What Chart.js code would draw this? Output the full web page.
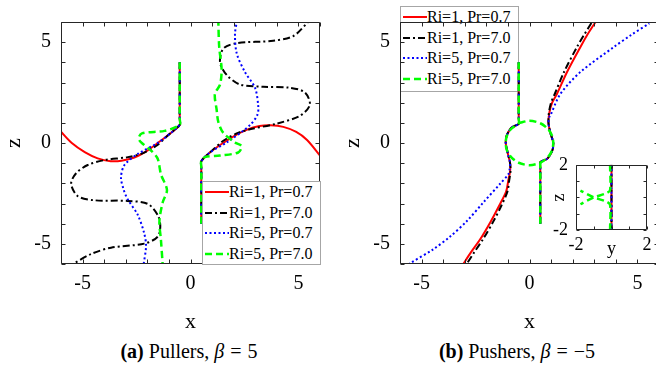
<!DOCTYPE html>
<html>
<head>
<meta charset="utf-8">
<script src="https://cdn.jsdelivr.net/npm/chart.js@4.4.0/dist/chart.umd.min.js"></script>
<style>
html, body { margin: 0; padding: 0; background: #fff; overflow: hidden; width: 656px; height: 369px; }
canvas { position: absolute; }
.legend { position: absolute; box-sizing: border-box; background: #fff; border: 1px solid #a6a6a6;
  font-family: 'Liberation Serif', 'DejaVu Serif', serif; font-size: 16px; color: #000; }
.legend div { height: 20.5px; display: flex; align-items: center; white-space: nowrap; }
.legend svg { flex: none; }
.caption { position: absolute; top: 340px; font-family: 'Liberation Serif', 'DejaVu Serif', serif; font-size: 20px;
  transform: translateX(-50%); white-space: nowrap; color: #000; }
.caption b { margin-right: 5px; }
.caption .eq { margin: 0 6px; }
</style>
</head>
<body>
<canvas id="pullers" width="330" height="340" style="left:0;top:0"></canvas>
<div class="legend" id="legendB" style="left:400px;top:6px;width:119px;height:86px"></div>
<canvas id="pushers" width="330" height="340" style="left:339px;top:0"></canvas>
<div class="legend" id="legendA" style="left:202px;top:181px;width:119px;height:84px"></div>
<canvas id="inset" width="120" height="114" style="left:540px;top:146px"></canvas>
<div class="caption" style="left:189px"><b>(a)</b>Pullers, <i>β</i><span class="eq">=</span>5</div>
<div class="caption" style="left:517px"><b>(b)</b>Pushers, <i>β</i><span class="eq">=</span>−5</div>

<script>
// series labels and tick labels
const seriesLabels = ['Ri=1, Pr=0.7', 'Ri=1, Pr=7.0', 'Ri=5, Pr=0.7', 'Ri=5, Pr=7.0'];
const mainTickLabels = [-5, 0, 5];
const insetTickLabels = [-2, 2];

// (a) pullers, beta = 5 : [x, z] points, upper branch and lower branch
const pullRedUp = [[-0.5,4],[-0.5,1.2],[-0.5,0.9],[-1.0,0.42],[-1.52,0],[-2.0,-0.38],[-2.6,-0.72],[-3.2,-0.88],[-3.7,-0.9],[-4.3,-0.76],[-4.9,-0.45],[-5.5,0],[-6,0.56]];
const pullRedLow = [[0.5,-4],[0.5,-1.2],[0.5,-0.9],[0.9,-0.47],[1.44,-0.05],[2.0,0.33],[2.6,0.65],[3.2,0.84],[3.7,0.88],[4.3,0.8],[4.9,0.55],[5.4,0.15],[6,-0.62]];
const pullBlackUp = [[-0.5,4],[-0.5,1.2],[-0.5,0.9],[-1.0,0.42],[-1.6,-0.15],[-2.2,-0.5],[-2.9,-0.7],[-4.0,-0.85],[-4.76,-1.09],[-5.3,-1.5],[-5.53,-2.02],[-5.22,-2.64],[-4.45,-2.84],[-2.91,-2.87],[-1.98,-3.02],[-1.52,-3.57],[-1.4,-4.11],[-1.52,-4.65],[-2.14,-4.99],[-3.68,-5.19],[-4.6,-5.5],[-5.45,-6]];
const pullBlackLow = [[0.5,-4],[0.5,-1.2],[0.5,-0.9],[0.9,-0.47],[1.52,0.11],[2.2,0.5],[2.75,0.68],[3.99,0.96],[5.07,1.35],[5.53,1.89],[5.3,2.51],[4.6,2.74],[3.37,2.79],[2.29,2.9],[1.68,3.37],[1.37,3.99],[1.52,4.68],[2.14,4.95],[3.83,5.07],[4.76,5.3],[5.45,6]];
const pullBlueUp = [[-0.5,4],[-0.5,1.2],[-0.5,0.9],[-1.0,0.42],[-1.52,0],[-2.44,-0.54],[-3.06,-1.09],[-3.22,-1.71],[-3.1,-2.3],[-2.91,-2.79],[-2.44,-3.57],[-2.14,-4.5],[-2.06,-5.12],[-2.17,-6]];
const pullBlueLow = [[0.5,-4],[0.5,-1.2],[0.5,-0.9],[0.9,-0.47],[1.68,0.03],[2.75,0.88],[3.1,1.4],[3.14,1.81],[2.99,2.74],[2.52,3.52],[2.14,4.45],[2.06,5.38],[2.14,6]];
const pullGreenUp = [[-0.5,4],[-0.5,1.2],[-0.5,0.9],[-1.2,0.6],[-2.25,0.48],[-2.4,0.2],[-2.2,-0.05],[-1.8,-0.4],[-1.52,-0.78],[-1.37,-1.55],[-1.09,-2.33],[-1.29,-2.95],[-1.44,-3.88],[-1.37,-4.8],[-1.29,-6]];
const pullGreenLow = [[0.5,-4],[0.5,-1.2],[0.5,-0.9],[0.67,-0.7],[1.37,-0.62],[2.21,-0.47],[2.37,-0.16],[2.06,0.03],[1.52,0.5],[1.29,1.04],[1.21,1.66],[1.13,2.43],[1.37,2.9],[1.44,3.67],[1.33,4.76],[1.29,6]];

// (b) pushers, beta = -5
const pushRedUp = [[-0.5,4],[-0.5,1.2],[-0.5,0.95],[-0.82,0.78],[-1.05,0.39],[-1.1,0],[-1.0,-0.54],[-0.9,-1.0],[-0.9,-1.4],[-0.98,-1.85],[-1.08,-2.4],[-1.4,-3.1],[-1.8,-3.9],[-2.3,-4.8],[-2.7,-5.4],[-3.07,-6]];
const pushRedLow = [[0.5,-4],[0.5,-1.2],[0.5,-0.95],[0.82,-0.78],[1.05,-0.39],[1.1,0],[0.96,0.54],[0.88,1.0],[0.92,1.5],[1.05,2.0],[1.27,2.43],[1.74,3.52],[2.36,4.76],[2.7,5.4],[3.06,6]];
const pushBlackUp = [[-0.5,4],[-0.5,1.2],[-0.5,0.95],[-0.82,0.78],[-1.05,0.39],[-1.1,0],[-1.0,-0.54],[-0.9,-1.0],[-0.88,-1.4],[-0.94,-1.85],[-1.02,-2.4],[-1.3,-3.1],[-1.68,-3.9],[-2.17,-4.8],[-2.55,-5.4],[-2.91,-6]];
const pushBlackLow = [[0.5,-4],[0.5,-1.2],[0.5,-0.95],[0.82,-0.78],[1.05,-0.39],[1.1,0],[0.96,0.54],[0.88,1.0],[0.9,1.5],[1.0,2.0],[1.17,2.43],[1.6,3.52],[2.2,4.76],[2.55,5.4],[2.9,6]];
const pushBlueUp = [[-0.5,4],[-0.5,1.2],[-0.5,0.95],[-0.82,0.78],[-1.05,0.39],[-1.1,0],[-1.0,-0.54],[-0.9,-1.0],[-0.92,-1.3],[-0.98,-1.55],[-1.36,-2.02],[-2.14,-2.95],[-2.91,-3.88],[-3.69,-4.65],[-4.46,-5.27],[-5.55,-5.97]];
const pushBlueLow = [[0.5,-4],[0.5,-1.2],[0.5,-0.95],[0.82,-0.78],[1.05,-0.39],[1.1,0],[0.96,0.54],[0.88,1.0],[0.92,1.3],[0.96,1.35],[1.43,2.43],[2.36,3.52],[3.91,4.76],[4.7,5.35],[5.55,5.93]];
const pushGreenUp = [[-0.5,4],[-0.5,1.2],[-0.5,0.98],[-0.85,0.7],[-1.05,0.35],[-1.1,0],[-1.05,-0.35],[-0.85,-0.7],[-0.5,-0.98],[0,-1.1],[0.5,-0.98],[0.85,-0.7],[1.05,-0.35],[1.1,0],[1.05,0.35],[0.85,0.7],[0.5,0.98],[0,1.1],[-0.5,0.98]];
const pushGreenLow = [[0.5,-4],[0.5,-1.2],[0.5,-0.98]];

// inset of (b): y-z view
const insetStraight = [[0,2],[0,-2]];
const insetGreenUp = [[-0.08,2],[-0.08,0.45],[-0.3,0.25],[-1.0,0],[-1.75,-0.42]];
const insetGreenLow = [[-0.08,-2],[-0.08,-0.45],[-0.3,-0.25],[-1.0,0],[-1.75,0.42]];

const styles = [
  { color: '#ff0000', width: 2, dash: [] },
  { color: '#000000', width: 2, dash: [7, 3, 2, 3] },
  { color: '#0000ff', width: 2, dash: [2, 2.5] },
  { color: '#00ff00', width: 2.5, dash: [7, 4] }
];

const serif = "'Liberation Serif', 'DejaVu Serif', serif";

function makeDatasets(series) {
  const out = [];
  series.forEach((branches, i) => {
    branches.forEach(pts => {
      out.push({
        data: pts.map(p => ({ x: p[0], y: p[1] })),
        showLine: true,
        pointRadius: 0,
        borderColor: styles[i].color,
        borderWidth: styles[i].width,
        borderDash: styles[i].dash,
        tension: 0.3,
        fill: false,
        order: 4 - i
      });
    });
  });
  return out;
}

// inward ticks on all four sides + box, MATLAB style
const boxTicks = {
  id: 'boxTicks',
  beforeDatasetsDraw(chart, args, opts) {
    if (!opts.fill) return;
    const { ctx, chartArea: a } = chart;
    ctx.save();
    ctx.fillStyle = '#fff';
    ctx.fillRect(a.left, a.top, a.width, a.height);
    ctx.restore();
  },
  afterDatasetsDraw(chart, args, opts) {
    const { ctx, chartArea: a, scales: { x, y } } = chart;
    const len = opts.len || 4;
    const L = Math.round(a.left) + 0.5, R = Math.round(a.right) - 0.5;
    const T = Math.round(a.top) + 0.5, B = Math.round(a.bottom) - 0.5;
    ctx.save();
    ctx.strokeStyle = '#262626';
    ctx.lineWidth = 1;
    ctx.beginPath();
    x.ticks.forEach(t => {
      const px = Math.round(x.getPixelForValue(t.value)) + 0.5;
      ctx.moveTo(px, B); ctx.lineTo(px, B - len);
      ctx.moveTo(px, T); ctx.lineTo(px, T + len);
    });
    y.ticks.forEach(t => {
      const py = Math.round(y.getPixelForValue(t.value)) + 0.5;
      ctx.moveTo(L, py); ctx.lineTo(L + len, py);
      ctx.moveTo(R, py); ctx.lineTo(R - len, py);
    });
    ctx.rect(L, T, R - L, B - T);
    ctx.stroke();
    ctx.restore();
  }
};

const tickFont = { family: serif, size: 20 };
const titleFont = { family: serif, size: 22 };

function axis(range, shown, font, fit, title, titlePad, tickPad) {
  return {
    type: 'linear', min: -range, max: range,
    ticks: {
      stepSize: 1, autoSkip: false, maxRotation: 0, padding: tickPad, color: '#000', font: font,
      callback: v => shown.includes(v) ? String(v) : ''
    },
    grid: { display: false, drawTicks: false },
    border: { display: false },
    title: { display: true, text: title, color: '#000', font: titleFont, padding: titlePad },
    afterFit: fit
  };
}

function mainChart(id, series, fill) {
  return new Chart(document.getElementById(id), {
    type: 'scatter',
    data: { datasets: makeDatasets(series) },
    plugins: [boxTicks],
    options: {
      responsive: false,
      animation: false,
      layout: { padding: { left: 0, right: 10, top: 6, bottom: 0 } },
      plugins: { legend: { display: false }, tooltip: { enabled: false }, boxTicks: { len: 4, fill: fill } },
      scales: {
        x: axis(6, mainTickLabels, tickFont, s => { s.height = 76; }, 'x', { top: 0, bottom: 5 }, 8),
        y: axis(6, mainTickLabels, tickFont, s => { s.width = 61; }, 'z', { top: 1, bottom: 0 }, 10)
      }
    }
  });
}

function draw() {
  mainChart('pullers', [
    [pullRedUp, pullRedLow], [pullBlackUp, pullBlackLow], [pullBlueUp, pullBlueLow], [pullGreenUp, pullGreenLow]
  ], true);
  mainChart('pushers', [
    [pushRedUp, pushRedLow], [pushBlackUp, pushBlackLow], [pushBlueUp, pushBlueLow], [pushGreenUp, pushGreenLow]
  ], false);

  // inset
  const insetFont = { family: serif, size: 18 };
  const insetX = axis(2, insetTickLabels, insetFont, s => { s.height = 30; }, 'y', { top: 0, bottom: 0 }, 4);
  const insetY = axis(2, insetTickLabels, insetFont, s => { s.width = 36; }, 'z', { top: 8, bottom: 0 }, 8);
  insetX.title.font = insetFont;
  insetY.title.font = insetFont;
  new Chart(document.getElementById('inset'), {
    type: 'scatter',
    data: { datasets: makeDatasets([[insetStraight], [insetStraight], [insetStraight], [insetGreenUp, insetGreenLow]]) },
    plugins: [boxTicks],
    options: {
      responsive: false,
      animation: false,
      layout: { padding: { left: 0, right: 13, top: 12, bottom: 0 } },
      plugins: { legend: { display: false }, tooltip: { enabled: false }, boxTicks: { len: 3, fill: true } },
      scales: { x: insetX, y: insetY }
    }
  });
}

// legends
function buildLegend(id) {
  const el = document.getElementById(id);
  seriesLabels.forEach((label, i) => {
    const s = styles[i];
    const row = document.createElement('div');
    row.innerHTML = '<svg width="26" height="8"><line x1="2" y1="4" x2="26" y2="4" stroke="' + s.color +
      '" stroke-width="' + s.width + '" stroke-dasharray="' + (s.dash.length ? s.dash.join(' ') : 'none') +
      '"/></svg><span>' + label + '</span>';
    el.appendChild(row);
  });
}
buildLegend('legendA');
buildLegend('legendB');

Promise.all([
  document.fonts.load('20px "Liberation Serif"'),
  document.fonts.load('20px "DejaVu Serif"')
]).then(draw, draw);
</script>
</body>
</html>
